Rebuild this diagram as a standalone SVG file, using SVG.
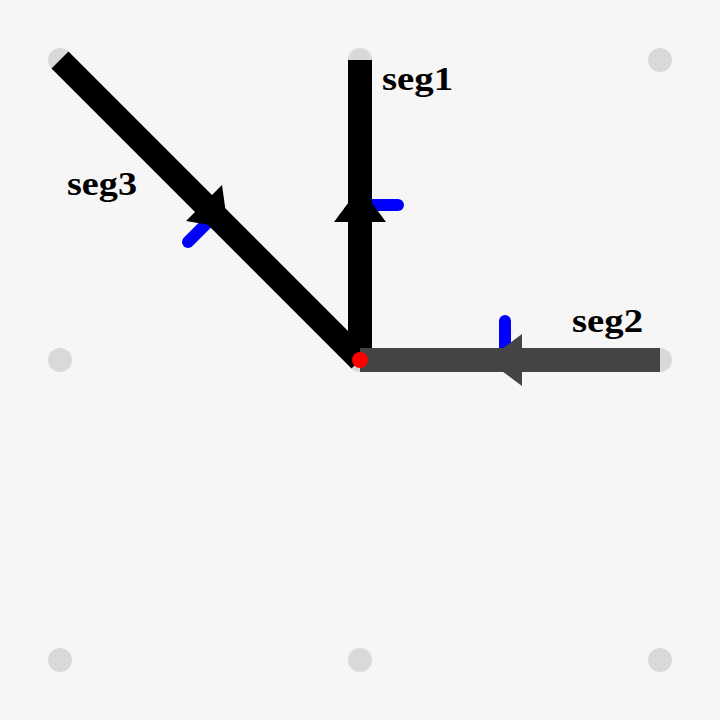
<svg xmlns="http://www.w3.org/2000/svg" width="720" height="720" viewBox="0 0 720 720">
<style>
.dot{fill:#d9d9d9}
.tick{stroke:#0000ff;stroke-width:12;stroke-linecap:round;fill:none}
.seg{stroke-width:24;stroke-linecap:butt;fill:none}
.lbl{font-family:"Liberation Serif","Times New Roman",serif;font-weight:bold;font-size:34px;fill:#000}
</style>
<rect width="720" height="720" fill="#f6f6f6"/>
<g id="grid">
<circle class="dot" cx="60" cy="60" r="12"/>
<circle class="dot" cx="360" cy="60" r="12"/>
<circle class="dot" cx="660" cy="60" r="12"/>
<circle class="dot" cx="60" cy="360" r="12"/>
<circle class="dot" cx="360" cy="360" r="12"/>
<circle class="dot" cx="660" cy="360" r="12"/>
<circle class="dot" cx="60" cy="660" r="12"/>
<circle class="dot" cx="360" cy="660" r="12"/>
<circle class="dot" cx="660" cy="660" r="12"/>
</g>
<g id="ticks">
<line class="tick" x1="360" y1="205" x2="398" y2="205"/>
<line class="tick" x1="505" y1="360" x2="505" y2="321"/>
<line class="tick" x1="215" y1="215" x2="188" y2="242"/>
</g>
<g id="connectors">
<g id="seg3">
<line class="seg" stroke="#000" x1="60" y1="60" x2="360" y2="360"/>
<polygon fill="#000" points="222,185 186,221 228,228"/>
</g>
<g id="seg1">
<line class="seg" stroke="#000" x1="360" y1="360" x2="360" y2="60"/>
<polygon fill="#000" points="334,222 386,222 360,187"/>
</g>
<g id="seg2">
<line class="seg" stroke="#444444" x1="660" y1="360" x2="360" y2="360"/>
<polygon fill="#444444" points="522,334 522,386 487,360"/>
</g>
</g>
<g id="junction">
<circle cx="360" cy="360" r="8" fill="#ff0000"/>
</g>
<g id="labels">
<text class="lbl" x="382" y="90" textLength="71" lengthAdjust="spacingAndGlyphs">seg1</text>
<text class="lbl" x="572" y="332" textLength="71" lengthAdjust="spacingAndGlyphs">seg2</text>
<text class="lbl" x="67" y="195" textLength="70" lengthAdjust="spacingAndGlyphs">seg3</text>
</g>
</svg>
